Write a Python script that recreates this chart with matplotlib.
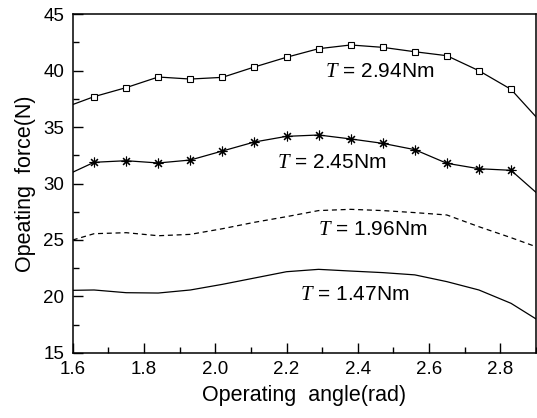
import matplotlib
matplotlib.use("Agg")
import matplotlib.pyplot as plt
from matplotlib.ticker import MultipleLocator

plt.rcParams['font.family'] = ['Liberation Sans', 'DejaVu Sans']
plt.rcParams['mathtext.fontset'] = 'custom'
plt.rcParams['mathtext.it'] = 'Liberation Serif:italic'
plt.rcParams['mathtext.rm'] = 'Liberation Sans'

angle = [1.60, 1.66, 1.75, 1.84, 1.93, 2.02, 2.11, 2.20, 2.29, 2.38, 2.47, 2.56, 2.65, 2.74, 2.83, 2.90]
force_294 = [37.0, 37.7, 38.5, 39.44, 39.26, 39.41, 40.33, 41.19, 41.95, 42.28, 42.07, 41.68, 41.33, 40.0, 38.35, 35.92]
force_245 = [31.0, 31.88, 32.02, 31.82, 32.08, 32.88, 33.68, 34.18, 34.30, 33.95, 33.56, 33.0, 31.79, 31.31, 31.17, 29.22]
force_196 = [24.99, 25.55, 25.64, 25.37, 25.49, 25.99, 26.56, 27.06, 27.6, 27.71, 27.6, 27.42, 27.21, 26.17, 25.2, 24.4]
force_147 = [20.53, 20.56, 20.32, 20.29, 20.56, 21.06, 21.62, 22.18, 22.39, 22.24, 22.1, 21.9, 21.3, 20.56, 19.38, 18.0]

labels = [r"$T$ = 2.94Nm", r"$T$ = 2.45Nm", r"$T$ = 1.96Nm", r"$T$ = 1.47Nm"]
label_pos = [(2.308, 39.97), (2.172, 31.88), (2.289, 25.94), (2.238, 20.12)]

fig = plt.figure(figsize=(5.37, 4.18), dpi=100)
ax = fig.add_axes([0.1354, 0.1562, 0.8626, 0.8096])

lw = 0.9
ax.plot(angle, force_294, color='black', lw=lw, marker='s', markersize=5,
        markerfacecolor='white', markeredgecolor='black', markeredgewidth=0.8,
        markevery=list(range(1, len(angle) - 1)))
ax.plot(angle, force_245, color='black', lw=lw, marker=(8, 2, 0), markersize=7,
        markeredgewidth=0.8, markevery=list(range(1, len(angle) - 1)))
ax.plot(angle, force_196, color='black', lw=lw, linestyle=(0, (4, 3)))
ax.plot(angle, force_147, color='black', lw=lw)

for txt, (x, y) in zip(labels, label_pos):
    ax.text(x, y, txt, fontsize=15, ha='left', va='center')

ax.set_xlim(1.6, 2.9)
ax.set_ylim(15, 45)
ax.xaxis.set_major_locator(MultipleLocator(0.2))
ax.xaxis.set_minor_locator(MultipleLocator(0.1))
ax.yaxis.set_major_locator(MultipleLocator(5))
ax.yaxis.set_minor_locator(MultipleLocator(2.5))
ax.xaxis.set_major_formatter(matplotlib.ticker.FormatStrFormatter('%.1f'))
ax.tick_params(which='both', direction='in', top=False, right=False, labelsize=13.5, pad=6)
ax.tick_params(which='major', length=7, width=1)
ax.tick_params(which='minor', length=4, width=1)
for s in ax.spines.values():
    s.set_linewidth(1.1)

ax.set_xlabel("Operating  angle(rad)", fontsize=15.5, labelpad=5)
ax.set_ylabel("Opeating  force(N)", fontsize=15.5, labelpad=5)

fig.savefig("out.png", dpi=100)
